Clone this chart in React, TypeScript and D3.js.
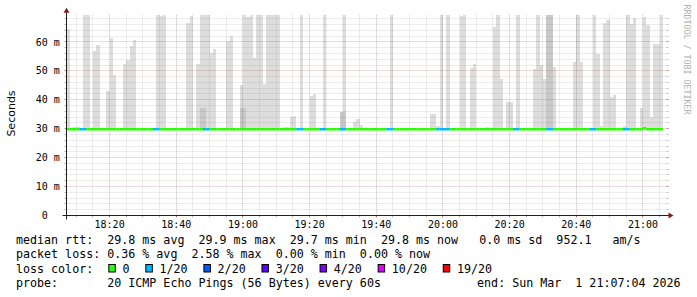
import React from "react";
import * as d3 from "d3";

// ---------- data ----------
const chartStart = new Date(2026, 2, 1, 18, 7, 4);
const chartEnd = new Date(2026, 2, 1, 21, 7, 4);
const yUpper = 69.4; // ms, upper limit of the graph
const medianRtt = 29.8; // ms
const minRtt = 29.7; // ms
const firstStep = "18:07";
const lastStep = "21:05";

// outer smoke (light gray): one-minute steps, top in ms
const smokeTimes = [
  "18:07", "18:09", "18:10", "18:12", "18:13", "18:15", "18:16", "18:19", "18:20", "18:21",
  "18:24", "18:25", "18:26", "18:27", "18:34", "18:35", "18:36", "18:43", "18:44", "18:46",
  "18:47", "18:48", "18:49", "18:50", "18:51", "18:55", "18:56", "18:59", "19:00", "19:01",
  "19:02", "19:03", "19:04", "19:05", "19:06", "19:07", "19:08", "19:09", "19:10", "19:12",
  "19:13", "19:14", "19:15", "19:17", "19:20", "19:21", "19:24", "19:29", "19:30", "19:33",
  "19:34", "19:35", "19:44", "19:56", "19:57", "19:58", "19:59", "20:00", "20:01", "20:05",
  "20:06", "20:08", "20:09", "20:13", "20:15", "20:16", "20:17", "20:19", "20:20", "20:22",
  "20:27", "20:28", "20:29", "20:30", "20:31", "20:32", "20:33", "20:39", "20:40", "20:41",
  "20:45", "20:46", "20:47", "20:48", "20:49", "20:50", "20:51", "20:54", "20:55", "20:56",
  "20:57", "20:59", "21:00", "21:01", "21:02", "21:03", "21:04", "21:05",
];
const smokeTops = [
  64.3, 30.6, 30.6, 69.4, 69.4, 56.8, 58.9, 43.1, 61.4, 48.5,
  52.5, 53.8, 58.6, 60.6, 69.4, 69.0, 69.4, 66.5, 69.0, 52.5,
  69.4, 69.4, 69.4, 56.0, 57.6, 60.2, 62.2, 45.0, 69.2, 68.7,
  69.4, 54.4, 69.4, 69.4, 45.4, 69.4, 69.4, 69.4, 69.4, 30.6,
  30.6, 34.0, 34.5, 69.4, 41.3, 42.1, 69.4, 35.7, 69.4, 32.2,
  33.3, 31.3, 69.4, 35.0, 35.0, 30.8, 69.4, 30.4, 69.4, 69.0,
  69.4, 50.9, 52.3, 30.6, 65.3, 69.4, 47.3, 39.2, 39.4, 69.4,
  50.6, 69.4, 52.1, 47.3, 69.4, 69.4, 51.2, 53.0, 69.4, 53.0,
  69.4, 55.9, 31.0, 66.4, 67.5, 41.0, 41.6, 30.9, 69.4, 66.2,
  68.2, 37.1, 68.6, 66.0, 33.9, 59.2, 59.2, 69.4,
];

// inner smoke (darker gray)
const darkTimes = ["18:47", "18:48", "18:59", "19:00", "19:29", "19:30", "20:31", "20:32"];
const darkTops = [37.0, 37.0, 37.3, 37.3, 35.7, 36.2, 69.4, 69.4];

// packet loss per step (pings lost out of 20); steps not listed have 0
const lossTimes = [
  "18:11", "18:12", "18:33", "18:34", "18:48", "18:49", "19:16", "19:17", "19:23", "19:24",
  "19:29", "19:30", "19:43", "19:44", "19:58", "19:59", "20:00", "20:01", "20:21", "20:22",
  "20:31", "20:32", "20:44", "20:45", "20:54", "20:55",
];
const lossCounts = [1, 1, 1, 1, 1, 1, 1, 1, 1, 1, 1, 1, 1, 1, 1, 1, 1, 1, 1, 1, 1, 1, 1, 1, 1, 1];

// median slightly above the usual value
const medianBumpTimes = ["21:00"];
const medianBumpValues = [30.2];

const yMajorTicks = [0, 10, 20, 30, 40, 50, 60];
const legendLevels = [0, 1, 2, 3, 4, 10, 19];
const legendLabels = ["0", "1/20", "2/20", "3/20", "4/20", "10/20", "19/20"];
const legendColors = ["#26ff00", "#00b8ff", "#0059ff", "#5e00ff", "#7e00ff", "#dd00ff", "#ff0000"];

const statLine1 =
  "median rtt:  29.8 ms avg  29.9 ms max  29.7 ms min  29.8 ms now   0.0 ms sd  952.1   am/s";
const statLine2 = "packet loss: 0.36 % avg  2.58 % max  0.00 % min  0.00 % now";
const legendTitle = "loss color:";
const probeLine = "probe:       20 ICMP Echo Pings (56 Bytes) every 60s";
const endLine = "end: Sun Mar  1 21:07:04 2026";
const yTitle = "Seconds";
const watermark = "RRDTOOL / TOBI OETIKER";

// ---------- layout ----------
const W = 697;
const H = 297;
const X0 = 66.5;
const X1 = 666.5;
const Y0 = 215.5;
const PX_PER_MS = 2.893;
const YTOP = Y0 - yUpper * PX_PER_MS;
const MONO = "'DejaVu Sans Mono', monospace";
const SANS = "'DejaVu Sans', sans-serif";
const STAT_FS = 11.66;
const CHAR_W = STAT_FS * 0.6021;

const at = (hm: string) => {
  const [h, m] = hm.split(":").map(Number);
  return new Date(2026, 2, 1, h, m, 0);
};

export default function App() {
  const x = d3.scaleTime().domain([chartStart, chartEnd]).range([X0, X1]);
  const y = d3.scaleLinear().domain([0, yUpper]).range([Y0, YTOP]);
  const fmt = d3.timeFormat("%H:%M");

  const gridMinor = "rgba(140,140,140,0.32)";
  const gridMajor = "rgba(150,30,30,0.32)";
  const tickMinor = "rgba(140,140,140,0.6)";
  const tickMajor = "rgba(150,30,30,0.6)";

  // vertical grid
  const vTimes = d3.timeMinute.every(5)!.range(chartStart, chartEnd);
  const vMajor = vTimes.filter((t) => t.getMinutes() % 20 === 0);
  const vMinor = vTimes.filter((t) => t.getMinutes() % 20 !== 0);
  // horizontal grid
  const hAll = d3.range(2, yUpper, 2);
  const hMajor = hAll.filter((v) => v % 10 === 0);
  const hMinor = hAll.filter((v) => v % 10 !== 0);
  const px = (v: number) => Math.floor(v) + 0.5;

  const lossMap = new Map(lossTimes.map((t, i) => [t, lossCounts[i]]));
  const bumpMap = new Map(medianBumpTimes.map((t, i) => [t, medianBumpValues[i]]));
  const steps = d3.timeMinute.range(at(firstStep), d3.timeMinute.offset(at(lastStep), 1));
  const colorFor = (n: number) => {
    let idx = 0;
    legendLevels.forEach((lv, i) => {
      if (n >= lv) idx = i;
    });
    return legendColors[idx];
  };

  const stepRect = (t: Date, top: number, base: number, fill: string, key: string) => (
    <rect
      key={key}
      x={x(t)}
      width={x(d3.timeMinute.offset(t, 1)) - x(t)}
      y={y(Math.min(top, yUpper))}
      height={y(base) - y(Math.min(top, yUpper))}
      fill={fill}
      shapeRendering="crispEdges"
    />
  );

  // legend layout
  let lx = 108.3;
  const legendItems = legendLabels.map((lab, i) => {
    const item = { x: lx, label: lab, color: legendColors[i] };
    lx += 14.2 + lab.length * CHAR_W + 15.8;
    return item;
  });

  return (
    <svg
      width={W}
      height={H}
      style={{ position: "absolute", left: 0, top: 0, background: "#fff" }}
      xmlns="http://www.w3.org/2000/svg"
    >
      <defs>
        <clipPath id="plot">
          <rect x={X0} y={YTOP} width={X1 - X0} height={Y0 - YTOP} />
        </clipPath>
      </defs>
      <rect x={0} y={0} width={W} height={H} fill="#ffffff" />

      <g clipPath="url(#plot)">
        {smokeTimes.map((t, i) => stepRect(at(t), smokeTops[i], minRtt, "#dddddd", "s" + i))}
        {darkTimes.map((t, i) => stepRect(at(t), darkTops[i], minRtt, "#c8c8c8", "d" + i))}
      </g>

      {/* grid */}
      <g fill="none" strokeWidth={1}>
        {hMinor.map((v) => (
          <g key={"hm" + v}>
            <line x1={X0} x2={X1} y1={px(y(v))} y2={px(y(v))} stroke={gridMinor} strokeDasharray="1,1" />
            <line x1={X0 - 2} x2={X0} y1={px(y(v))} y2={px(y(v))} stroke={tickMinor} />
            <line x1={X1} x2={X1 + 2} y1={px(y(v))} y2={px(y(v))} stroke={tickMinor} />
          </g>
        ))}
        {hMajor.map((v) => (
          <g key={"hM" + v}>
            <line x1={X0} x2={X1} y1={px(y(v))} y2={px(y(v))} stroke={gridMajor} strokeDasharray="1,1" />
            <line x1={X0 - 2} x2={X0} y1={px(y(v))} y2={px(y(v))} stroke={tickMajor} />
            <line x1={X1} x2={X1 + 2} y1={px(y(v))} y2={px(y(v))} stroke={tickMajor} />
          </g>
        ))}
        {vMinor.map((t, i) => (
          <g key={"vm" + i}>
            <line x1={px(x(t))} x2={px(x(t))} y1={YTOP} y2={Y0} stroke={gridMinor} strokeDasharray="1,1" />
            <line x1={px(x(t))} x2={px(x(t))} y1={Y0} y2={Y0 + 2} stroke={tickMinor} />
          </g>
        ))}
        {vMajor.map((t, i) => (
          <g key={"vM" + i}>
            <line x1={px(x(t))} x2={px(x(t))} y1={YTOP} y2={Y0} stroke={gridMajor} strokeDasharray="1,1" />
            <line x1={px(x(t))} x2={px(x(t))} y1={Y0} y2={Y0 + 2} stroke={tickMajor} />
          </g>
        ))}
      </g>

      {/* median line coloured by loss */}
      <g clipPath="url(#plot)">
        {steps.map((t, i) => {
          const key = fmt(t);
          const med = bumpMap.get(key) ?? medianRtt;
          return (
            <line
              key={"m" + i}
              x1={x(t)}
              x2={x(d3.timeMinute.offset(t, 1))}
              y1={y(med)}
              y2={y(med)}
              stroke={colorFor(lossMap.get(key) ?? 0)}
              strokeWidth={2.4}
            />
          );
        })}
      </g>

      {/* axes */}
      <line x1={X0 - 4} x2={X1 + 4} y1={Y0} y2={Y0} stroke="#1f1f1f" strokeWidth={1} />
      <line x1={X0} x2={X0} y1={Y0 + 4} y2={YTOP - 4} stroke="#1f1f1f" strokeWidth={1} />
      <polygon
        points={`${X1 + 2},${Y0 - 3} ${X1 + 2},${Y0 + 3} ${X1 + 7},${Y0}`}
        fill="#7f1f1f"
      />
      <polygon
        points={`${X0 - 3},${YTOP - 2} ${X0 + 3},${YTOP - 2} ${X0},${YTOP - 7}`}
        fill="#7f1f1f"
      />

      {/* y labels */}
      <g fontFamily={MONO} fontSize={10} fill="#000">
        {yMajorTicks.map((v) => (
          <text key={"yl" + v} x={35.8} y={y(v) + 3.6} xmlSpace="preserve">
            {`${String(v).padStart(2, " ")} ${v === 0 ? " " : "m"}`}
          </text>
        ))}
        {vMajor.map((t, i) => (
          <text key={"xl" + i} x={x(t)} y={228.3} textAnchor="middle">
            {fmt(t)}
          </text>
        ))}
      </g>

      <text
        transform="translate(15.2,113.5) rotate(-90)"
        textAnchor="middle"
        fontFamily={SANS}
        fontSize={11}
        fill="#000"
      >
        {yTitle}
      </text>
      <text
        transform="translate(684.2,4.5) rotate(90)"
        fontFamily={MONO}
        fontSize={8.3}
        fill="#b0b0b0"
      >
        {watermark}
      </text>

      {/* legend / stats */}
      <g fontFamily={MONO} fontSize={STAT_FS} fill="#000">
        <text x={16} y={244} xmlSpace="preserve">{statLine1}</text>
        <text x={16} y={258.3} xmlSpace="preserve">{statLine2}</text>
        <text x={16} y={272.5} xmlSpace="preserve">{legendTitle}</text>
        {legendItems.map((it, i) => (
          <g key={"lg" + i}>
            <rect x={it.x + 0.5} y={264.5} width={6.5} height={7.5} fill={it.color} stroke="#000" strokeWidth={1} />
            <text x={it.x + 14.2} y={272.5}>{it.label}</text>
          </g>
        ))}
        <text x={16} y={286.7} xmlSpace="preserve">{probeLine}</text>
        <text x={680.6} y={286.7} textAnchor="end" xmlSpace="preserve">{endLine}</text>
      </g>
    </svg>
  );
}
